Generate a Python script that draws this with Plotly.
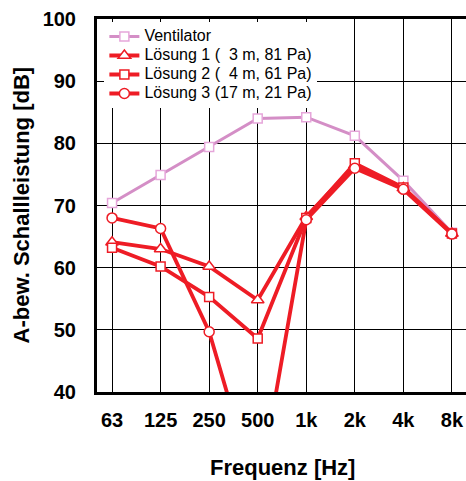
import plotly.graph_objects as go

categories = ["63", "125", "250", "500", "1k", "2k", "4k", "8k"]
ventilator = [70.4, 74.9, 79.4, 84.0, 84.2, 81.2, 74.0, 65.6]
loesung1 = [64.1, 63.0, 60.2, 54.8, 68.2, 76.5, 72.8, 65.5]
loesung2 = [63.2, 60.2, 55.3, 48.6, 68.0, 76.8, 72.9, 65.5]
loesung3 = [68.0, 66.3, 49.7, 23.0, 67.7, 76.0, 72.6, 65.4]
y_ticks = [40, 50, 60, 70, 80, 90, 100]

names = ["Ventilator",
         "Lösung 1 (\u00a0\u00a03 m, 81 Pa)",
         "Lösung 2 (\u00a0\u00a04 m, 61 Pa)",
         "Lösung 3 (17 m, 21 Pa)"]

RED = "#ee1c25"
PINK = "#d48ec6"


def leg(s):
    return '<span style="font-size:16px">' + s + '</span>'


fig = go.Figure()
fig.add_trace(go.Scatter(x=categories, y=ventilator, name=leg(names[0]), mode="lines+markers",
                         line=dict(color=PINK, width=3),
                         marker=dict(symbol="square", size=9, color="white",
                                     line=dict(color="#e6a6da", width=1.5))))
fig.add_trace(go.Scatter(x=categories, y=loesung1, name=leg(names[1]), mode="lines+markers",
                         line=dict(color=RED, width=3.8),
                         marker=dict(symbol="triangle-up", size=11, color="white",
                                     line=dict(color=RED, width=1.5))))
fig.add_trace(go.Scatter(x=categories, y=loesung2, name=leg(names[2]), mode="lines+markers",
                         line=dict(color=RED, width=3.8),
                         marker=dict(symbol="square", size=9, color="white",
                                     line=dict(color=RED, width=1.5))))
fig.add_trace(go.Scatter(x=categories, y=loesung3, name=leg(names[3]), mode="lines+markers",
                         line=dict(color=RED, width=3.8),
                         marker=dict(symbol="circle", size=10, color="white",
                                     line=dict(color=RED, width=1.5))))

FONT = "Liberation Sans, Arial, sans-serif"

fig.update_layout(
    width=466, height=481,
    margin=dict(l=97, r=0, t=19, b=89, autoexpand=False),
    plot_bgcolor="white", paper_bgcolor="white",
    font=dict(family=FONT, color="black"),
    legend=dict(x=0.02, y=0.992, xanchor="left", yanchor="top",
                bgcolor="white", borderwidth=0,
                font=dict(family=FONT, size=12, color="black"),
                tracegroupgap=0, itemwidth=30),
    xaxis=dict(type="category", range=[-0.31, 7.29], automargin=False,
               showgrid=True, gridcolor="black", gridwidth=1.3,
               showline=True, linecolor="black", linewidth=3, mirror=True,
               ticks="", ticklabelstandoff=8,
               tickfont=dict(family=FONT, size=20, color="black", weight="bold"),
               zeroline=False),
    yaxis=dict(range=[40, 100], tickvals=y_ticks, automargin=False,
               showgrid=True, gridcolor="black", gridwidth=1.3,
               showline=True, linecolor="black", linewidth=3, mirror=False,
               ticks="", ticklabelstandoff=14,
               tickfont=dict(family=FONT, size=20, color="black", weight="bold"),
               zeroline=False),
    annotations=[
        dict(text="<b>Frequenz [Hz]</b>", xref="paper", yref="paper",
             x=(282 - 97) / 369, y=-(468 - 392) / 373, xanchor="center", yanchor="middle",
             showarrow=False, font=dict(family=FONT, size=22, color="black")),
        dict(text="<b>A-bew. Schallleistung [dB]</b>", xref="paper", yref="paper",
             x=-(97 - 21) / 369, y=0.5, xanchor="center", yanchor="middle", textangle=-90,
             showarrow=False, font=dict(family=FONT, size=22, color="black")),
    ],
)

fig.write_html("out.html", config={"displayModeBar": False},
               post_script="document.body.style.margin='0';")
